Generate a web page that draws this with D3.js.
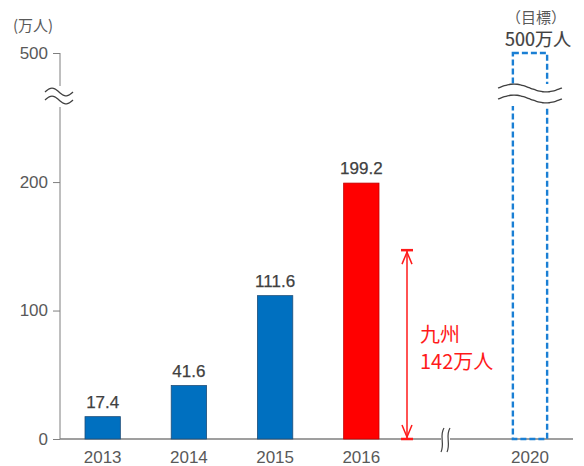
<!DOCTYPE html>
<html>
<head>
<meta charset="utf-8">
<script src="https://cdn.jsdelivr.net/npm/d3@7"></script>
<style>
	body { margin: 0; background: #fff; }
	text { font-family: "Noto Sans CJK JP", "Liberation Sans", sans-serif; }
</style>
</head>
<body>
<svg id="chart" width="584" height="466"></svg>
<script>
	'use strict';

	//data
	var years = ['2013', '2014', '2015', '2016'],
		visitors = [17.4, 41.6, 111.6, 199.2],
		barColors = ['#0070c0', '#0070c0', '#0070c0', '#ff0000'],
		targetYear = '2020',
		targetValue = 500,
		kyushuValue = 147,
		kyushuLabel = ['九州', '142万人'],
		yTicks = [0, 100, 200, 500];

	var svg = d3.select('#chart'),
		axisX = 60,
		baseY = 439,
		numFont = '"Liberation Sans", Arial, sans-serif';

	//y scale with a break between 200 and 500
	var y = d3.scaleLinear()
		.domain([0, 260, 500])
		.range([baseY, 105, 53]);

	var x = d3.scaleBand()
		.domain(years)
		.range([60, 404])
		.paddingInner(0.59)
		.paddingOuter(0.29);

	var xTarget = d3.scaleBand()
		.domain([targetYear])
		.range([496, 564])
		.padding(0.33);

	//y axis
	var yAxis = d3.axisLeft(y).tickValues(yTicks).tickSize(7).tickPadding(5);
	var gy = svg.append('g').attr('transform', 'translate(' + axisX + ',0)').call(yAxis);
	gy.select('.domain').remove();
	gy.selectAll('.tick line').attr('stroke', '#7f7f7f');
	gy.selectAll('.tick text').attr('fill', '#595959').style('font-size', '17px')
		.style('font-family', numFont);

	svg.append('line').attr('x1', axisX).attr('x2', axisX)
		.attr('y1', y(500)).attr('y2', 86).attr('stroke', '#7f7f7f');
	svg.append('line').attr('x1', axisX).attr('x2', axisX)
		.attr('y1', 107).attr('y2', baseY).attr('stroke', '#7f7f7f');

	svg.append('text').attr('x', 13).attr('y', 31).attr('fill', '#595959')
		.style('font-size', '15px').text('(万人)');

	//wavy break marks
	function wave(x0, x1, yc, amp) {
		var pts = d3.range(0, 21).map(function(i) {
			var t = i / 20;
			return [x0 + (x1 - x0) * t, yc - amp * Math.sin(t * Math.PI * 2)];
		});
		return d3.line().curve(d3.curveBasis)(pts);
	}
	[92, 100].forEach(function(yc) {
		svg.append('path').attr('d', wave(45, 73, yc, 4))
			.attr('fill', 'none').attr('stroke', '#404040').attr('stroke-width', 1.3);
	});

	//x axis
	svg.append('line').attr('x1', axisX).attr('x2', 573)
		.attr('y1', baseY).attr('y2', baseY).attr('stroke', '#7f7f7f').attr('stroke-width', 1.3);

	//x axis break
	svg.append('rect').attr('x', 441).attr('y', 430).attr('width', 9).attr('height', 20).attr('fill', '#fff');
	[441, 447].forEach(function(bx) {
		svg.append('path')
			.attr('d', 'M' + (bx + 3) + ',428 C' + (bx - 2) + ',436 ' + (bx + 4) + ',443 ' + bx + ',452')
			.attr('fill', 'none').attr('stroke', '#404040').attr('stroke-width', 1.2);
	});

	var xLabels = years.concat([targetYear]);
	svg.selectAll('.xlabel').data(xLabels).enter().append('text')
		.attr('class', 'xlabel')
		.attr('x', function(d) { return d === targetYear ? xTarget(d) + xTarget.bandwidth() / 2 : x(d) + x.bandwidth() / 2; })
		.attr('y', 463)
		.attr('text-anchor', 'middle')
		.attr('fill', '#595959')
		.style('font-size', '17px')
		.style('font-family', numFont)
		.text(function(d) { return d; });

	//bars
	svg.selectAll('.bar').data(visitors).enter().append('rect')
		.attr('class', 'bar')
		.attr('x', function(d, i) { return x(years[i]); })
		.attr('y', function(d) { return y(d); })
		.attr('width', x.bandwidth())
		.attr('height', function(d) { return baseY - y(d); })
		.attr('fill', function(d, i) { return barColors[i]; })
		.attr('stroke', function(d, i) { return i === 3 ? '#c00000' : '#1f4e79'; })
		.attr('stroke-width', 0.8);

	svg.selectAll('.val').data(visitors).enter().append('text')
		.attr('class', 'val')
		.attr('x', function(d, i) { return x(years[i]) + x.bandwidth() / 2; })
		.attr('y', function(d) { return y(d) - 9; })
		.attr('text-anchor', 'middle')
		.attr('fill', '#404040')
		.attr('stroke', '#404040')
		.attr('stroke-width', 0.25)
		.style('font-size', '17px')
		.style('font-family', numFont)
		.text(function(d) { return d.toFixed(1); });

	//target bar (dashed, with break)
	var tx = xTarget(targetYear), tw = xTarget.bandwidth();
	svg.append('rect').attr('x', tx).attr('y', y(targetValue))
		.attr('width', tw).attr('height', baseY - y(targetValue))
		.attr('fill', 'none').attr('stroke', '#1a7fd4').attr('stroke-width', 2.4)
		.attr('stroke-dasharray', '6,3');
	svg.append('rect').attr('x', tx - 4).attr('y', 84).attr('width', tw + 8).attr('height', 22).attr('fill', '#fff');
	[88, 99].forEach(function(yc) {
		svg.append('path').attr('d', wave(498, 562, yc, 4))
			.attr('fill', 'none').attr('stroke', '#404040').attr('stroke-width', 1.3);
	});

	svg.append('text').attr('x', tx + tw / 2 + 6).attr('y', 23).attr('text-anchor', 'middle')
		.attr('fill', '#595959').style('font-size', '15px').text('（目標）');
	svg.append('text').attr('x', tx + tw / 2 + 8).attr('y', 46).attr('text-anchor', 'middle')
		.attr('fill', '#404040').attr('stroke', '#404040').attr('stroke-width', 0.2)
		.style('font-size', '18px').text(targetValue + '万人');

	//kyushu arrow
	var ax = 407, red = '#ff1a1a';
	svg.append('line').attr('x1', ax).attr('x2', ax).attr('y1', y(kyushuValue)).attr('y2', baseY)
		.attr('stroke', red).attr('stroke-width', 1.5);
	[y(kyushuValue), baseY].forEach(function(cy, i) {
		svg.append('line').attr('x1', ax - 6).attr('x2', ax + 6).attr('y1', cy).attr('y2', cy)
			.attr('stroke', red).attr('stroke-width', 2.5);
		var dir = i === 0 ? 1 : -1;
		svg.append('path')
			.attr('d', 'M' + (ax - 5) + ',' + (cy + dir * 14) + ' L' + ax + ',' + (cy + dir * 2) + ' L' + (ax + 5) + ',' + (cy + dir * 14))
			.attr('fill', 'none').attr('stroke', red).attr('stroke-width', 1.5);
	});
	svg.selectAll('.kyushu').data(kyushuLabel).enter().append('text')
		.attr('class', 'kyushu')
		.attr('x', 420)
		.attr('y', function(d, i) { return 342 + i * 27; })
		.attr('fill', red)
		.style('font-size', '20px')
		.text(function(d) { return d; });
</script>
</body>
</html>
